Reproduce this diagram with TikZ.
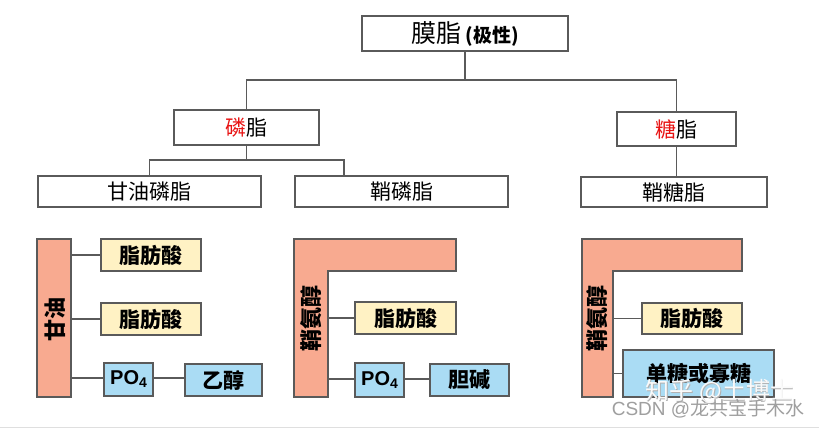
\documentclass[tikz,border=0pt]{standalone}
\usepackage{fontspec}
\newfontfamily\cjk{Noto Sans CJK SC}
\newfontfamily\lat{Liberation Sans}
\definecolor{salmon}{HTML}{F8AA90}
\definecolor{cream}{HTML}{FFF2C4}
\definecolor{skyb}{HTML}{AADCF4}
\definecolor{bordg}{HTML}{5A5A5A}
\definecolor{redt}{HTML}{E81414}
\tikzset{
  hbox/.style={draw=bordg, line width=1.1pt, fill=white, inner sep=0pt, font=\cjk\fontsize{21}{21}\selectfont},
  cbox/.style={draw=bordg, line width=1.1pt, inner sep=0pt, font=\cjk\bfseries\fontsize{21}{21}\selectfont},
  fabox/.style={cbox, fill=cream},
  bbox/.style={cbox, fill=skyb},
  conn/.style={draw=bordg, line width=1.2pt},
  lshape/.style={draw=bordg, line width=1.1pt, fill=salmon},
  vtext/.style={rotate=90, inner sep=0pt, font=\cjk\bfseries\fontsize{22}{22}\selectfont},
}
\newcommand{\pofour}{{\lat\bfseries\fontsize{20}{20}\selectfont PO\raisebox{-3pt}{\fontsize{14}{14}\selectfont 4}}}
\newcommand{\wmtext}{知乎 @土博士}
\begin{document}
\begin{tikzpicture}[x=1pt,y=-1pt]
\useasboundingbox[fill=white] (0,0) rectangle (819,429);
\draw[gray!25, line width=1pt] (0,427) -- (819,427);

% tree
\node[hbox, minimum width=206pt, minimum height=35pt] (top) at (465,33.5)
  {\fontsize{25}{25}\selectfont 膜脂\,{\bfseries\fontsize{19}{19}\selectfont (极性)}};
\node[hbox, minimum width=145pt, minimum height=35pt] (ph) at (246.5,127.5) {{\color{redt}磷}脂};
\node[hbox, minimum width=119pt, minimum height=34pt] (gl) at (676.5,129) {{\color{redt}糖}脂};
\node[hbox, minimum width=223pt, minimum height=31pt] (gp) at (149.5,191.5) {甘油磷脂};
\node[hbox, minimum width=213pt, minimum height=31pt] (sp) at (401.5,191.5) {鞘磷脂};
\node[hbox, minimum width=186pt, minimum height=30pt] (sg) at (674,192) {鞘糖脂};

\coordinate (j1) at (465,80);
\coordinate (j2) at (247,160);
\draw[conn] (top.south) -- (j1);
\draw[conn] (ph.north) |- (j1) -| (gl.north);
\draw[conn] (ph.south) -- (ph.south |- j2);
\draw[conn] (gp.north) |- (j2) -| ([xshift=-57.5pt]sp.north);
\draw[conn] (gl.south) -- (gl.south |- sg.north);

% glycerophospholipid
\node[cbox, fill=salmon, minimum width=34pt, minimum height=158pt] (gly) at (54,318) {};
\node[vtext] (glyt) at (55,319) {甘油};
\node[fabox, minimum width=100pt, minimum height=32pt] (fa1) at (151,255) {脂肪酸};
\node[fabox, minimum width=100pt, minimum height=32pt] (fa2) at (151,319) {脂肪酸};
\node[bbox, minimum width=49pt, minimum height=33pt] (po1) at (128.5,379.5) {\pofour};
\node[bbox, minimum width=77pt, minimum height=32pt] (eth) at (223.5,380) {乙醇};
\draw[conn] (fa1.west -| gly.east) -- (fa1.west);
\draw[conn] (fa2.west -| gly.east) -- (fa2.west);
\draw[conn] ([yshift=1.5pt]po1.west -| gly.east) -- ([yshift=1.5pt]po1.west);
\draw[conn] ([yshift=1.5pt]po1.east) -- ([yshift=1.5pt]po1.east -| eth.west);

% sphingomyelin
\draw[lshape] (294,239) -- (456,239) -- (456,271) -- (328,271) -- (328,397) -- (294,397) -- cycle;
\coordinate (e1) at (328,318);
\node[vtext] (sph1) at (311,318) {鞘氨醇};
\node[fabox, minimum width=101pt, minimum height=32pt] (fa3) at (405.5,318) {脂肪酸};
\node[bbox, minimum width=49pt, minimum height=34pt] (po2) at (379.5,380) {\pofour};
\node[bbox, minimum width=79pt, minimum height=32pt] (cho) at (469.5,380) {胆碱};
\draw[conn] (fa3.west -| e1) -- (fa3.west);
\draw[conn] ([yshift=1pt]po2.west -| e1) -- ([yshift=1pt]po2.west);
\draw[conn] ([yshift=1pt]po2.east) -- ([yshift=1pt]po2.east -| cho.west);

% glycosphingolipid
\draw[lshape] (582,239) -- (742,239) -- (742,271) -- (613,271) -- (613,397) -- (582,397) -- cycle;
\coordinate (e2) at (613,318);
\node[vtext] (sph2) at (597.5,318) {鞘氨醇};
\node[fabox, minimum width=100pt, minimum height=31pt] (fa4) at (692,318.5) {脂肪酸};
\node[bbox, minimum width=151pt, minimum height=47pt] (sug) at (698.5,373.5) {单糖或寡糖};
\draw[conn] (fa4.west -| e2) -- (fa4.west);
\draw[conn] (sug.west -| e2) -- (sug.west);

% watermark
\node[inner sep=0pt, font=\cjk\fontsize{24}{24}\selectfont] (wm1) at (720,392)
  {\rlap{\kern0.8pt\raisebox{-0.8pt}{\color{gray!60}\wmtext}}{\color{white!96!gray}\wmtext}};
\node[inner sep=0pt, text=gray!75, font=\lat\fontsize{19}{19}\selectfont] (wm2) at (708,409) {CSDN @{\cjk 龙共宝手木水}};
\end{tikzpicture}
\end{document}
